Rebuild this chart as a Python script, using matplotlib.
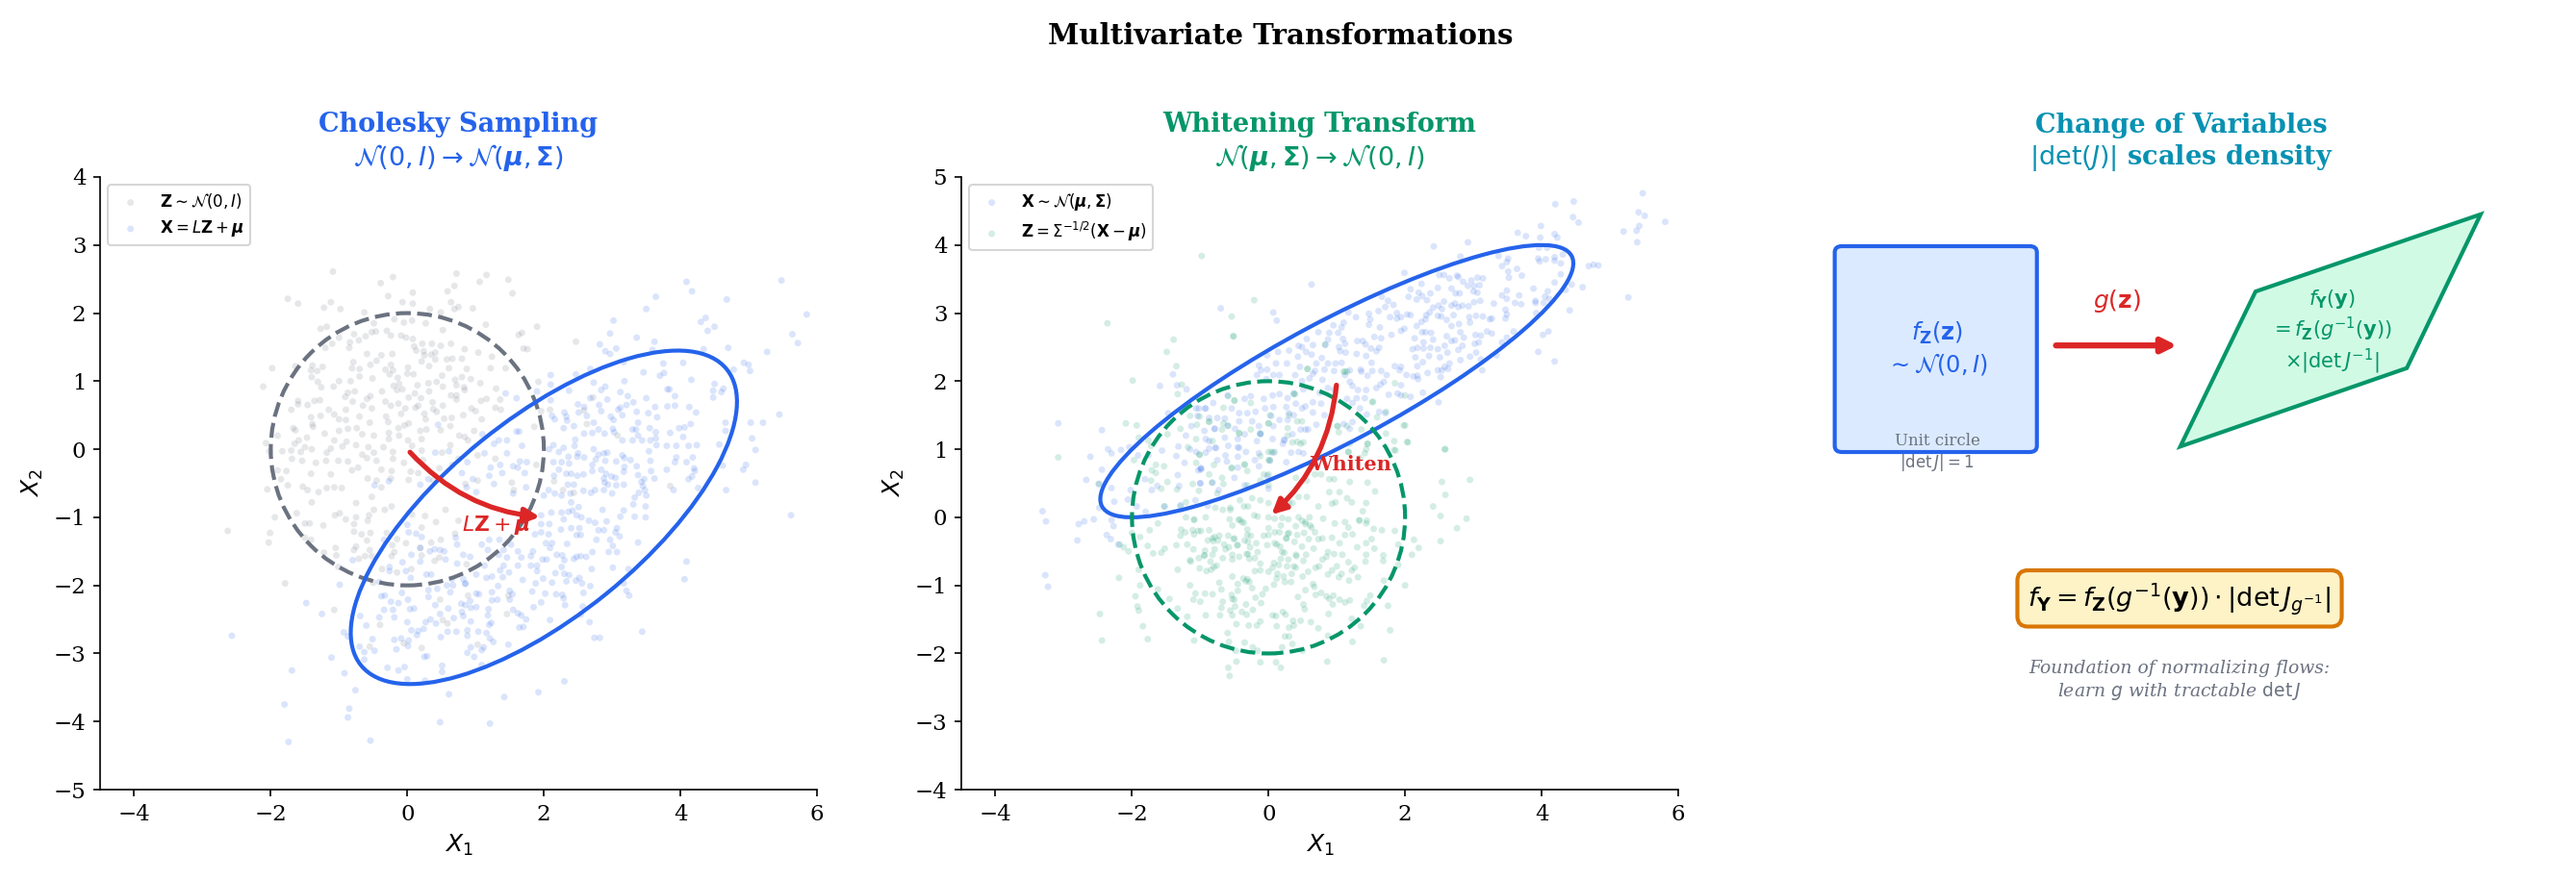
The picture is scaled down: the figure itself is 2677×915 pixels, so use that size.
import numpy as np
import matplotlib
matplotlib.use('Agg')
import matplotlib.pyplot as plt
from matplotlib.patches import Circle, Ellipse, FancyBboxPatch, Polygon

plt.rcParams['font.family'] = 'DejaVu Serif'

BLUE = '#2563EB'
GREEN = '#059669'
GRAY = '#6B7280'
RED = '#DC2626'
CYAN = '#0891B2'
ORANGE = '#D97706'

# Points, data coordinates
z_left = [(-1.09,2.61),(-0.21,2.53),(-0.39,2.44),(0.72,2.58),(1.16,2.56),(1.06,2.46),(1.48,2.49),(0.69,2.40),(0.59,2.32),(1.54,2.29),(0.08,2.30),(-0.28,2.25),(-1.75,2.21),(-1.60,2.14),(-1.12,2.16),(-1.22,2.08),(-0.98,2.06),(-0.07,2.16),(0.08,2.14),(0.64,2.16),(0.69,2.06),(0.75,2.09),(0.96,2.07),(-0.63,2.01),(0.33,2.06),(0.49,2.01),(-0.19,1.91),(-0.05,1.86),(0.07,1.89),(0.27,1.85),(-1.27,1.77),(-1.18,1.80),(-0.49,1.85),(1.15,1.83),(0.52,1.75),(-0.52,1.72),(-0.46,1.73),(-0.30,1.74),(-0.24,1.67),(-0.78,1.69),(-0.61,1.66),(-0.09,1.67),(-0.02,1.64),(0.08,1.62),(1.63,1.68),(1.68,1.71),(-1,1.64),(-1.20,1.49),(-1.10,1.55),(-0.84,1.57),(-0.71,1.60),(0.22,1.55),(0.36,1.55),(0.49,1.52),(0.64,1.55),(0.10,1.51),(-0.85,1.49),(0.84,1.47),(1.70,1.48),(1.76,1.47),(0.24,1.44),(0.25,1.38),(0.41,1.42),(0.35,1.39),(-0.22,1.40),(-0.38,1.38),(-0.59,1.40),(1.04,1.42),(1.24,1.36),(0.13,1.45),(0.21,1.29),(0.41,1.32),(0.58,1.32),(0.66,1.33),(0.80,1.33),(-0.45,1.30),(-0.79,1.28),(-0.24,1.24),(-0.54,1.24),(0.32,1.22),(-1.98,1.19),(-1.64,1.22),(-1.39,1.23),(-1.24,1.21),(-1.41,1.16),(-1.32,1.15),(-0.81,1.19),(-0.70,1.18),(-0.32,1.17),(-0.21,1.16),(0.01,1.20),(0.61,1.19),(0.87,1.18),(1.22,1.19),(1.44,1.19),(-0.26,1.10),(0,1.11),(0.09,1.10),(0.51,1.08),(-0.70,1.07),(-1.40,1.06),(-0.51,1.04),(-0.14,1.05),(0.80,1.06),(0.70,1.02),(0.93,1.03),(-1,1.0),(-0.83,1.0),(-1.31,0.99),(-0.12,0.96),(0.31,0.97),(0.43,0.99),(1.07,0.97),(-2.11,0.92),(-1.26,0.91),(-1.08,0.92),(-0.20,0.93),(0.15,0.94),(0.52,0.92),(0.72,0.94),(0.83,0.91),(1.30,0.89),(-0.37,0.85),(-0.77,0.85),(-0.15,0.87),(-0.07,0.88),(-0.87,0.83),(0.32,0.85),(0.84,0.87),(-0.91,0.77),(-0.54,0.78),(0.11,0.82),(0.64,0.79),(0.72,0.79),(0.02,0.76),(0.20,0.75),(0.72,0.73),(1.36,0.73),(1.16,0.74),(-1.60,0.71),(-1.28,0.72),(-1.36,0.71),(-0.80,0.70),(-0.59,0.74),(-0.32,0.70),(0.37,0.69),(1.08,0.71),(-1.46,0.65),(-1.60,0.66),(-0.65,0.64),(-0.52,0.60),(-0.24,0.64),(-0.13,0.67),(0.16,0.64),(0.52,0.64),(1.29,0.61),(1.37,0.58),(0.94,0.60),(-1.70,0.58),(-1.15,0.58),(-0.90,0.58),(-0.03,0.60),(0.12,0.61),(0.38,0.59),(0.43,0.55),(1,0.56),(-0.31,0.48),(-1.41,0.47),(-1.27,0.49),(-1.07,0.51),(-0.70,0.48),(-0.09,0.52),(0.25,0.52),(0.82,0.50),(0.65,0.46),(1.09,0.44),(-0.90,0.43),(-1,0.44),(-0.28,0.40),(-0.55,0.39),(0.27,0.44),(0.54,0.45),(0.02,0.38),(-0.04,0.35),(-0.13,0.31),(-1.39,0.37),(-1.38,0.33),(-0.87,0.30),(-0.74,0.31),(0.63,0.34),(0.28,0.29),(-1.67,0.31),(-1.64,0.28),(-1.21,0.23),(-1.90,0.20),(-1.47,0.17),(-1,0.27),(-0.49,0.20),(-0.27,0.24),(-0.12,0.20),(0.19,0.27),(0.49,0.28),(0.76,0.20),(0.84,0.18),(0.98,0.27),(-1.59,0.13),(-1.65,0.08),(-2.07,0.09),(-1.07,0.13),(-0.89,0.11),(-0.66,0.22),(0.01,0.13),(-0.27,0.15),(0.21,0.15),(0.63,0.06),(0.89,0.13),(0.07,0.05),(-0.57,0.03),(-0.35,0.03),(-1.50,0.03),(-0.95,0.04),(-0.75,0.06),(-1.83,-0.03),(-2.02,-0.03),(-1.70,-0.02),(-1.56,-0.04),(-1.40,-0.00),(-1.12,0.01),(-0.49,-0.05),(-0.21,-0.04),(-0.66,-0.08),(-1.18,-0.05),(0.21,-0.02),(0.51,-0.05),(-1.69,-0.14),(-1.54,-0.17),(-1.34,-0.20),(-1.19,-0.17),(-1.01,-0.17),(-0.87,-0.18),(-0.59,-0.13),(-0.45,-0.17),(-0.21,-0.14),(-0.05,-0.20),(0.23,-0.16),(-1.90,-0.31),(-1.77,-0.32),(-1.41,-0.36),(-1.12,-0.37),(-0.81,-0.31),(-0.72,-0.27),(-0.38,-0.30),(-0.23,-0.32),(0.05,-0.33),(0.16,-0.35),(-0.58,-0.43),(-0.45,-0.46),(-0.24,-0.43),(0.02,-0.45),(-1.85,-0.44),(-2.05,-0.59),(-1.75,-0.53),(-1.53,-0.55),(-1.46,-0.60),(-1.30,-0.63),(-1.18,-0.57),(-1.07,-0.56),(-0.96,-0.57),(-0.52,-0.70),(-0.38,-0.56),
    (-2.63,-1.20),(-2.01,-1.23),(-2.03,-1.37),(-1.94,-1.0),(-1.62,-0.94),(-1.50,-1.09),(-1.43,-1.09),(-1.23,-1.12),(-1.40,-0.78),(-0.99,-0.94),(-1.06,-0.97),(-0.90,-1.03),(-0.75,-1.0),(-0.56,-0.97),(-0.58,-1.05),(-0.78,-1.10),(-0.78,-1.21),(-0.67,-1.25),(-0.54,-1.23),(-0.30,-1.23),(-0.59,-1.34),(-1.05,-1.45),(-0.75,-1.43),(-0.55,-1.48),(-1.04,-1.56),(-0.62,-1.57),(-0.71,-1.61),(-0.78,-1.48),(-0.52,-1.57),(-1.22,-1.52),(-1.41,-1.33),(-1.50,-1.30),(-0.22,-1.41),(-0.15,-1.32),(-0.02,-1.38),(-0.23,-1.57),(-0.19,-1.51),(0.21,-1.56),(-0.37,-1.76),(-0.15,-1.81),(0.06,-1.76),(-1.01,-1.73),(-1.79,-1.97),(-1.07,-2.36),(-0.40,-2.58),(-0.50,-1.96),(0.21,-2.92),(-0.55,-2.90),(-0.05,-2.85),(0.48,-2.21),(0.89,-2.15),(1.48,-2.15),(1.46,-2.42),(0.52,-2.51),(0.59,-2.56),(1.03,-2.87),(0.49,-1.33),(0.35,-1.37),(0.21,-1.15),(0.42,-1.07),(0.70,-1.24),(0.19,-1.45),(0.47,-1.59),(0.40,-1.64),(0.87,-1.69),(0.07,-0.96),(0.26,-0.98),(0.56,-0.89),(0.75,-1.05),(-0.23,-0.84),(-0.75,-0.79),(-0.49,-0.89),(-0.33,-0.89),
    (1.90,1.80),(2.47,1.58),(1.92,0.99),(2.72,0.76),(2.09,0.58),(1.96,0.56),(2.59,0.57),(2.63,0.37),(1.86,0.33),(3.08,0.2),(2.15,-0.47),(3.85,-0.54),(2.28,-0.60),(2.44,-0.64),(1.89,-0.23),(1.03,-0.46),(1.53,-0.49),(0.85,-0.51),(0.66,-0.23),(1.03,-0.09),(0.75,-0.14),(1.29,-0.14),(1.56,-0.60),(0.47,-0.28),(0.38,-0.46)]

x_left = [(4.09,2.46),(4.17,2.32),(5.48,2.48),(3.64,2.24),(4.68,2.20),(5.85,1.98),(3.50,2.06),(3.02,1.89),(4.37,1.93),(4.30,1.87),(4.50,1.80),(4.40,1.74),(2.97,1.70),(5.64,1.69),(5.72,1.56),(3.36,1.64),(3.62,1.58),(2.82,1.54),(3.06,1.48),(2.90,1.44),(2.97,1.40),(4.70,1.49),(5.27,1.43),(3.59,1.46),(4.34,1.47),(4.93,1.27),(5.0,1.24),(5.02,1.15),(4.78,1.17),(3.75,1.26),(4.04,1.27),(3.17,1.28),(3.46,1.13),(3.76,1.12),(3.70,1.08),(2.68,1.18),(2.47,1.10),(2.10,1.09),(2.10,0.95),(2.73,0.98),(3.18,1.0),(4.16,1.02),(4.50,0.96),(2.90,0.92),(2.84,0.87),(2.37,0.86),(3.12,0.84),(3.81,0.88),(3.84,0.88),(4.48,0.86),(4.63,0.89),(4.60,0.84),(4.48,0.76),(3.92,0.78),(3.23,0.78),(3.50,0.75),(2.68,0.75),(2.93,0.73),(3.31,0.69),(2.10,0.72),(1.90,0.85),(2.50,0.66),(2.81,0.65),(3.21,0.65),(3.12,0.61),(3.63,0.62),(3.81,0.63),(3.92,0.64),(4.13,0.62),(2.59,0.62),(3.09,0.58),(3.36,0.55),(3.53,0.53),(4.23,0.54),(2.84,0.56),(2.51,0.54),(2.30,0.54),(2.12,0.49),(2.63,0.49),(2.98,0.48),(3.15,0.50),(3.66,0.47),(5.45,0.51),(3.02,0.43),(2.33,0.48),(2.16,0.44),(2.34,0.42),(3.38,0.39),(2.73,0.39),(4.66,0.39),(5.03,0.39),(5.21,0.39),(4.15,0.37),(3.55,0.31),(4.06,0.32),(3.98,0.31),(4.66,0.27),(2.44,0.34),(2.80,0.29),(3.01,0.30),(3.30,0.29),(3.35,0.29),(2.29,0.31),(2.71,0.24),(2.59,0.23),(2.89,0.23),(3.03,0.25),(3.64,0.25),(3.85,0.24),(4.04,0.18),(3.38,0.20),(2.46,0.14),(3.15,0.13),(3.30,0.13),(3.44,0.13),(3.56,0.13),(3.64,0.16),(5.05,0.16),(4.57,0.07),(2.14,0.06),(2.45,0.05),(2.29,0.02),(3.65,0.06),(3.80,0.05),(3.94,0.05),(4.12,0.05),(4.24,0.06),(5.10,-0.01),(2.08,-0.0),(2.73,-0.0),(3.54,-0.03),(2.22,-0.04),(2.50,-0.06),(2.93,-0.05),(2.88,-0.06),(2.80,-0.08),(3.15,-0.09),(3.94,-0.12),(4.18,-0.12),(2.36,-0.11),(2.49,-0.11),(2.59,-0.12),(2.76,-0.15),(3.18,-0.13),(3.27,-0.16),(3.56,-0.17),(2.90,-0.17),(3.06,-0.18),(3.92,-0.19),(4.09,-0.19),(2.14,-0.19),(2.26,-0.19),(2.37,-0.21),(2.71,-0.23),(3.36,-0.25),(4.62,-0.24),(4.96,-0.23),(4.92,-0.30),(4.20,-0.28),(3.80,-0.30),(3.18,-0.26),(3.57,-0.32),(2.22,-0.30),(2.84,-0.30),(3.17,-0.33),(2.71,-0.32),(2.58,-0.37),(2.33,-0.36),(2.40,-0.36),(2.49,-0.39),(2.91,-0.36),(3.38,-0.38),(4.21,-0.32),(4.17,-0.40),(4.12,-0.44),(2.88,-0.43),(2.99,-0.40),(3.05,-0.42),(3.62,-0.43),(3.47,-0.44),(2.15,-0.39),(3.43,-0.48),(5.10,-0.49),(2.35,-0.52),(2.44,-0.52),(3.17,-0.52),(3.06,-0.53),(3.45,-0.54),(2.94,-0.52),(2.89,-0.49),(3.90,-0.60),(4.26,-0.57),(4.67,-0.60),(3.48,-0.60),(2.75,-0.60),(2.58,-0.61),(2.16,-0.65),(2.88,-0.60),(3.39,-0.64),(3.0,-0.65),(2.39,-0.65),(2.69,-0.64),(2.07,-0.60),(3.50,-0.68),(3.33,-0.71),(2.26,-0.68),(2.0,-0.68),
    (5.62,-0.97),(4.09,-1.65),(4.06,-1.91),(3.44,-2.68),(2.74,-2.77),(2.82,-2.77),(2.67,-2.54),(2.30,-3.41),(1.92,-3.57),(2.09,-2.51),(3.25,-2.15),(3.21,-2.08),(3.17,-1.97),(3.24,-1.76),(3.01,-1.74),(3.38,-1.37),(3.12,-0.99),(3.33,-0.99),(3.49,-1.0),(3.49,-0.84),(3.31,-0.81),(3.17,-0.90),(2.86,-0.89),(2.92,-1.06),(3.07,-1.16),(3.05,-1.22),(3.11,-1.28),(2.88,-1.19),(2.80,-1.19),(2.97,-1.33),(3.01,-1.42),(3.07,-1.51),(2.95,-1.51),(2.77,-1.33),(2.71,-1.51),(2.62,-1.58),(2.54,-1.57),(2.48,-1.58),(2.44,-1.61),(2.34,-1.39),(2.40,-1.16),(2.25,-1.18),(2.07,-1.25),(1.96,-1.22),(1.87,-1.25),(2.48,-1.26),(2.54,-1.26),(2.52,-1.16),(2.75,-1.08),(2.66,-1.05),(2.55,-1.0),(2.48,-0.97),(2.42,-0.90),(2.26,-0.93),(2.36,-0.92),(2.51,-0.85),(2.40,-0.78),(2.11,-0.93),(1.96,-0.97),(1.96,-1.10),(2.29,-1.03),(2.08,-1.10),(2.03,-1.38),(2.12,-1.38),(2.09,-1.45),(2.19,-1.55),(2.27,-1.56),(1.84,-1.50),(1.81,-1.57),(1.98,-1.62),(2.04,-1.62),(2.30,-1.63),(1.81,-1.71),(1.90,-1.71),(2.26,-1.73),(2.70,-1.76),(1.90,-1.79),(2.17,-1.82),(2.30,-1.83),(2.37,-1.85),(1.99,-1.90),(2.52,-1.89),(2.47,-1.93),(2.33,-1.94),(2.12,-1.96),(1.88,-1.97),(2.56,-1.97),(2.68,-2.01),(1.83,-2.09),(2.02,-2.12),(2.18,-2.13),(2.27,-2.14),(2.58,-2.11),(2.29,-2.19),(1.96,-2.25),(2.31,-2.29),(2.57,-2.31),(1.85,-2.32),(2.54,-2.43),
    (-2.57,-2.74),(-1.69,-3.25),(-1.80,-3.75),(-1.74,-4.30),(-0.85,-3.81),(-0.87,-3.94),(-0.54,-4.28),(-0.76,-3.54),(-0.92,-3.29),(-1.11,-3.06),(-1.48,-2.26),(-1.25,-2.42),(-0.99,-1.99),(-0.93,-2.69),(-0.87,-2.75),(-0.69,-2.45),(-0.60,-2.59),(-0.70,-2.90),(-0.63,-2.98),(-0.48,-2.96),(-0.63,-3.09),(-0.51,-2.79),(-0.29,-3.21),(-0.13,-3.25),(-0.04,-3.20),(0.48,-4.01),(0.61,-3.60),(1.21,-4.03),(1.42,-3.64),(0.51,-3.18),(0.51,-3.27),(0,-3.38),(0.26,-3.40),(0.25,-3.05),(0.29,-3.04),(-0.16,-2.94),(-0.19,-2.80),(-0.09,-2.78),(0.02,-2.81),(0.01,-2.89),(-0.38,-2.16),(-0.33,-2.15),(-0.24,-2.24),(-0.13,-2.26),(0.01,-2.21),(-0.08,-2.11),(-0.34,-2.36),(-0.21,-2.36),(-0.41,-2.47),(-0.19,-2.47),(0.04,-2.35),(0.10,-2.34),(-0.00,-2.54),(0.34,-2.50),(0.27,-2.54),(0.42,-2.56),(0.06,-2.66),(0.16,-2.67),(0.24,-2.64),(0.14,-2.73),(0.49,-2.76),(0.59,-2.68),(0.72,-2.68),(0.88,-2.66),(0.88,-2.74),(1.04,-2.68),(1.16,-2.70),(1.21,-2.78),(1.26,-2.83),(0.88,-2.99),(0.93,-2.91),(0.98,-3.05),(1.12,-2.91),(1.09,-2.95),(1.09,-3.17),(1.48,-2.87),(1.64,-2.62),(1.70,-2.61),(1.23,-2.55),(1.20,-2.58),(0.93,-2.53),(0.80,-2.39),(0.82,-2.45),(0.68,-2.48),(1.18,-2.44),(0.48,-2.42),(0.60,-2.34),(0.41,-2.29),(0.31,-2.17),(0.63,-2.10),(0.44,-2.05),(0.31,-2.07),(0.58,-2.0),(0.67,-2.0),(0.85,-1.97),(1.01,-2.12),(1.05,-2.13),(0.79,-2.27),(0.85,-2.29),(0.92,-2.23),(0.93,-2.33),(1.01,-2.32),(1.19,-2.35),(1.24,-2.22),(1.32,-2.21),(1.24,-2.10),(1.33,-2.01),(1.50,-2.08),(1.54,-2.13),(1.50,-2.21),(1.55,-2.36),(1.62,-2.41),(1.67,-2.44),(1.74,-2.50),(1.16,-1.89),(1.24,-1.87),(1.40,-1.88),(1.69,-1.92),(1.41,-1.71),(1.36,-1.78),(1.49,-1.81),(1.62,-1.71),(1.13,-1.71),(1.01,-1.84),(0.82,-1.91),(0.65,-1.91),(0.85,-1.98),(0.73,-1.68),(0.28,-1.84),(0.35,-1.84),(0.05,-1.89),(-0.02,-1.79),(-0.07,-1.66),(-0.26,-1.73),(-0.26,-1.79),(-0.41,-1.95),(0.56,-1.62),(0.19,-1.65),(0.06,-1.55),(0.33,-1.50),(0.40,-1.47),(0.48,-1.48),(0.54,-1.50),(0.19,-1.45),(0.71,-1.30),(0.73,-1.40),(0.82,-1.55),(0.92,-1.58),(1.09,-1.40),(1.18,-1.48),(1.20,-1.33),(1.35,-1.33),(1.41,-1.48),(1.46,-1.59),(1.34,-1.55),(1.52,-1.40),(1.62,-1.50),(1.67,-1.59),(0.21,-1.29),(0.02,-1.22),(0.13,-1.24),(0,-1.11),(-0.34,-1.33),(-0.80,-1.63),
    (1.44,0.82),(1.60,0.75),(1.60,0.26),(1.64,0.26),(1.27,0.08),(1.34,0.13),(1.46,0.13),(1.68,0.05),(1.10,0.22),(0.45,0.36),(0.41,-0.05),(0.61,-0.03),(1.13,-0.06),(1.46,-0.06),(1.65,-0.18),(1.75,-0.19),(0.88,-0.19),(1.55,-0.25),(1.62,-0.27),(1.72,-0.35),(1.36,-0.23),(1.22,-0.27),(1.39,-0.35),(0.80,-0.35),(0.96,-0.44),(1.20,-0.39),(0.31,-0.44),(0.19,-0.52),(0.87,-0.56),(1.27,-0.51),(1.01,-0.63),(1.55,-0.65),(1.74,-0.56),(-0.48,-0.53),(-0.27,-0.47)]

x_mid = [(5.48,4.76),(5.42,4.48),(5.51,4.43),(5.81,4.34),(5.43,4.28),(5.20,4.20),(5.39,4.21),(5.40,4.04),(5.27,3.23),(4.83,3.70),(4.76,3.71),(4.69,3.69),(4.60,3.38),(4.47,4.64),(4.20,4.60),(4.46,4.41),(4.54,4.33),(3.99,4.28),(3.65,4.18),(3.77,4.13),(3.98,4.11),(4.19,4.16),(4.23,4.11),(2.92,4.04),(2.42,3.98),(2.81,3.83),(3.37,3.84),(3.51,3.80),(3.49,3.75),(3.42,3.69),(3.64,3.65),(3.51,3.61),(3.71,3.55),(3.52,3.52),(3.96,3.96),(4.08,3.96),(3.95,3.80),(4.06,3.79),(3.97,3.76),(4.19,3.82),(4.19,3.77),(4.31,3.86),(4.28,3.73),(4.28,3.57),(4.19,3.45),(4.44,3.42),(4.35,3.34),(4.09,3.32),(3.88,3.36),(3.49,3.33),(3.42,3.26),(3.67,3.26),(3.49,3.21),(3.61,3.15),(3.70,3.13),(4.05,3.24),(4.11,3.21),(3.91,3.18),(4.03,3.15),(3.91,3.15),(4.41,3.04),(3.92,3.0),(3.47,3.05),(3.49,2.98),(3.47,2.92),(3.30,3.14),(3.10,3.18),(3.27,2.92),(3.24,2.91),(3.14,2.95),(3.04,2.96),(2.94,2.94),(2.95,2.86),(2.79,2.84),(2.68,2.81),(2.53,2.95),(2.61,2.90),(2.71,2.97),(2.54,3.06),(2.48,2.96),(2.84,3.11),(2.78,3.09),(2.93,3.10),(2.68,3.11),(2.73,3.14),(3.01,3.16),(2.49,3.11),(2.57,3.17),(2.41,3.08),(2.36,3.01),(2.31,2.97),(2.30,2.91),(2.24,2.87),(2.08,2.97),(2.03,2.98),(1.94,2.94),(1.88,2.92),(1.88,3.0),(1.78,2.94),(2.17,2.81),(1.99,2.77),(1.94,2.74),(1.80,2.68),(2.25,2.72),(2.30,2.72),(2.38,2.71),(2.14,2.63),(2.41,2.61),(2.61,2.66),(2.81,2.72),(2.86,2.64),(3.03,2.68),(3.11,2.67),(3.20,2.73),(3.27,2.70),(3.08,2.57),(3.02,2.55),(2.68,2.59),(2.73,2.60),(2.84,2.52),(2.78,2.46),(2.58,2.52),(2.27,2.57),(2.27,2.48),(2.18,2.49),(2.48,2.47),(2.37,2.49),(2.11,2.47),(2.62,2.42),(2.35,2.37),(2.15,2.35),(2.51,2.35),(2.81,2.31),(2.95,2.36),(3.04,2.42),(3.34,2.38),(3.59,2.73),(3.49,2.64),(3.42,2.57),(3.11,2.32),(4.02,2.68),(4.10,2.73),(3.95,2.43),(4.19,2.29),(2.26,2.28),(2.65,2.26),(2.58,2.21),(2.63,2.18),(2.48,2.16),(2.54,2.16),(3.13,2.16),(2.33,2.12),(2.52,2.06),(2.12,2.07),(2.18,2.08),(2.02,2.09),(2.19,2.03),(1.94,2.21),(1.85,2.22),(1.92,2.16),(2.18,2.22),(1.94,1.94),(2.26,1.83),(2.08,1.77),(1.89,1.82),(1.94,1.79),(1.76,1.80),(2.49,1.69),(1.73,2.09),(1.75,3.18),(1.83,3.12),(2.05,3.24),(2.17,3.20),(2.20,3.30),(2.25,3.25),(2.32,3.19),(2.37,3.29),(2.74,3.29),(2.80,3.29),(3.06,3.30),(3.0,3.32),(2.68,3.36),(2.48,3.37),(2.08,3.35),(2.24,3.43),(2.92,3.40),(3.09,3.41),(3.01,3.40),(2.85,3.46),(2.97,3.48),(2.78,3.53),(2.65,3.51),(2.76,3.55),(2.57,3.56),(2.50,3.56),(3.06,3.52),(3.14,3.51),(1.99,3.59),(1.71,3.09),
    (0.63,3.42),(-0.70,3.07),(0.07,3.01),(0.12,2.89),(1.17,3.01),(1.28,2.94),(1.47,2.99),(1.61,3.03),(1.66,3.24),(1.49,2.91),(1.47,2.83),(1.63,2.79),(1.10,2.86),(0.95,2.82),(1.07,2.79),(0.73,2.72),(0.89,2.71),(1.02,2.71),(0.56,2.62),(0.87,2.61),(1.09,2.62),(0.44,2.52),(0.65,2.53),(0.83,2.53),(1.12,2.55),(0.49,2.50),(1.03,2.50),(0.30,2.45),(0.55,2.43),(1.05,2.44),(1.13,2.42),(0.14,2.43),(-0.02,2.38),(0.43,2.36),(0.63,2.39),(0.78,2.34),(1.29,2.40),(1.43,2.37),(1.50,2.48),(1.55,2.65),(1.65,2.63),(1.30,2.59),(1.38,2.59),(1.42,2.54),(1.58,2.44),(1.62,2.49),(0.11,2.26),(0.27,2.26),(-0.14,2.23),(0.70,2.26),(0.87,2.26),(0.98,2.26),(1.07,2.27),(1.51,2.27),(0.46,2.21),(-0.11,2.16),(-0.02,2.17),(0.68,2.15),(0.82,2.17),(0.96,2.15),(1.19,2.16),(1.35,2.17),(1.52,2.15),(1.65,2.15),(-0.17,2.09),(0.07,2.09),(0.16,2.09),(0.39,2.09),(0.60,2.04),(0.79,2.02),(1.12,2.09),(1.45,2.08),(1.36,2.14),(1.69,1.99),(-0.03,2.03),(0.49,2.0),(0.65,2.11),(1.19,1.99),(1.23,1.93),(1.31,1.87),(1.43,1.87),(1.58,1.90),(1.64,1.95),(1.15,1.74),(1.29,1.75),(1.41,1.75),(0.87,1.90),(0.96,1.88),(0.75,1.83),(0.51,1.88),(0.37,1.82),(0.06,1.79),(0.28,1.75),(0.16,1.81),(-0.07,1.74),(-0.26,1.78),(-0.35,1.74),(-0.60,1.79),(-0.81,1.68),(-0.54,1.60),(-0.92,1.60),(-1.02,1.60),(0.65,1.69),(0.77,1.67),(1.23,1.68),(1.34,1.60),(1.44,1.51),(1.62,1.55),(1.71,1.53),(1.23,1.40),(1.10,1.37),(1.19,1.30),(0.54,1.63),(0.40,1.67),(0.26,1.62),(0.30,1.53),(0.07,1.62),(-0.05,1.60),(-0.19,1.55),(-0.31,1.53),(-0.43,1.53),(-0.64,1.45),(-0.75,1.46),(-0.87,1.46),(-1.04,1.49),(0.49,1.60),(0.37,1.50),(0.65,1.54),(0.82,1.50),(0.16,1.43),(0.04,1.49),(-0.14,1.34),(-0.43,1.41),(-0.24,1.41),(0.07,1.34),(0.28,1.43),(0.54,1.29),(0.70,1.36),(0.47,1.29),(-0.79,1.30),(-0.94,1.27),(-0.60,1.35),(-0.49,1.30),(-0.35,1.22),(-0.12,1.23),(0.35,1.22),(0.58,1.29),(0.06,1.15),(0.23,1.14),(-0.17,1.12),(-0.87,1.12),(-0.64,1.17),(-0.45,1.15),(-0.77,1.02),(-0.43,1.02),(-1.06,0.96),(-0.92,0.95),(-0.59,1.05),(0.07,0.95),(0.21,1.08),(0.33,0.95),(0.51,0.94),(-0.33,0.96),(-0.14,0.94),(-0.75,0.84),(-0.45,0.89),(0.02,0.83),(-0.99,0.72),(-0.61,0.82),(-0.14,0.75),(0.26,0.81),
    (-3.08,1.38),(-2.44,1.28),(-1.59,1.93),(-1.40,2.10),(-1.34,1.94),(-1.20,1.88),(-1.47,1.53),(-1.06,1.60),(-0.93,1.60),(-1.21,1.20),(-1.13,1.34),(-1.32,1.04),(-1.56,0.98),(-2.04,1.03),(-2.16,0.99),(-2.35,1.0),(-2.30,0.94),(-2.61,0.89),(-1.76,0.91),(-1.35,0.90),(-1.15,1.0),(-1.91,0.91),(-2.44,0.70),(-2.67,0.55),(-1.81,0.56),(-1.33,0.62),(-1.23,0.80),(-1.03,0.69),(-0.99,0.70),(-1.71,0.40),(-2.30,0.43),(-2.02,0.40),(-2.48,0.49),(-1.63,0.46),(-1.31,0.46),(-1.0,0.50),(-2.06,0.26),(-2.26,0.23),(-2.48,0.14),(-1.52,0.16),(-1.29,0.18),(-1.07,0.25),(-0.89,0.17),(-2.30,-0.04),(-3.31,0.09),(-3.26,-0.06),(-2.78,-0.10),(-2.70,-0.06),(-2.56,-0.03),(-2.27,-0.13),(-2.80,-0.34),(-2.37,-0.26),(-2.31,-0.32),(-2.20,-0.40),(-1.80,0.08),(-1.93,0.16),(-0.79,1.30),(-0.92,1.15),(-0.78,1.02),(-0.87,1.01),(-0.63,0.91),(-0.45,1.03),(-0.12,1.22),(0.23,1.13),(0.44,0.96),(-0.45,0.73),(-0.20,0.84),(-0.99,0.72),(-1.0,0.50),(-0.0,0.42),(-0.02,0.61),(-0.50,0.58),(-0.73,0.40),(-0.82,0.51),(-0.35,0.47),(-3.27,-0.85),(-3.23,-1.02)]

z_mid = [(-2.44,-1.81),(-2.47,-1.42),(-2.19,-0.89),(-1.84,-1.60),(-1.77,-1.79),(-1.90,-1.37),(-1.92,-1.31),(-1.95,-1.16),(-1.90,-0.77),(-1.88,-1.0),(-1.62,-1.06),(-1.45,-1.20),(-1.33,-1.34),(-1.19,-1.46),(-1.09,-1.81),(-0.57,-2.33),(-0.59,-2.21),(-0.47,-2.12),(-0.12,-2.13),(0.11,-2.13),(0.18,-2.21),(0.86,-2.12),(1.69,-2.10),(1.23,-1.83),(0.87,-1.74),(-0.48,-1.96),(-0.58,-1.83),(-0.35,-1.84),(-0.23,-1.91),(0.20,-1.91),(0.35,-1.86),(-0.16,-1.96),(0.50,-1.96),(-0.60,-1.70),(0.24,-1.75),(0.30,-1.75),(-0.29,-1.59),(-0.12,-1.53),(-0.17,-1.59),(0.12,-1.60),(0.30,-1.62),(0.37,-1.59),(0.36,-1.52),(0.47,-1.52),(0.62,-1.54),(0.73,-1.63),(1.22,-1.49),(1.35,-1.60),(-0.47,-1.57),(-0.92,-1.44),(-0.71,-1.44),(-0.53,-1.44),(-0.56,-1.37),(-0.39,-1.39),(-0.32,-1.43),(-0.23,-1.36),(0.06,-1.44),(0.11,-1.45),(0.21,-1.39),(0.25,-1.43),(0.88,-1.42),(0.53,-1.35),(0.51,-1.28),(-0.69,-1.33),(-0.49,-1.31),(-0.33,-1.28),(-0.67,-1.24),(-1.0,-1.24),(-1.10,-1.21),(-0.11,-1.26),(-0.19,-1.18),(-0.53,-1.20),(-0.50,-1.21),(0.94,-1.28),(0.89,-1.20),(1.04,-1.21),(1.12,-1.25),(1.19,-1.22),(1.44,-1.23),(1.49,-1.15),(1.40,-1.30),(0.43,-1.17),(-0.09,-1.13),(-1.07,-1.12),(-0.93,-1.12),(-0.82,-1.13),(-0.54,-1.14),(0.69,-1.14),(0.77,-1.11),(0.85,-1.16),(0.95,-1.15),(0.54,-1.07),(-0.04,-1.05),(-0.69,-1.06),(-0.45,-1.08),(-0.24,-1.04),(-1.15,-1.0),(-0.45,-0.98),(-0.33,-0.94),(0.67,-1.02),(0.65,-0.98),(1.69,-0.93),(0.08,-0.99),(0.24,-0.95),(0.33,-0.95),(-0.72,-0.96),(-0.28,-0.95),(-0.37,-0.90),(-0.31,-0.91),(-0.53,-0.87),(0.12,-0.90),(0.13,-0.83),(0.22,-0.87),(0.34,-0.83),(0.50,-0.87),(0.58,-0.80),(1.03,-0.88),(1.07,-0.83),(1.18,-0.93),(1.31,-0.88),(0.87,-0.84),(0.37,-0.72),(0.27,-0.72),(0.40,-0.74),(0.06,-0.74),(-0.0,-0.80),(-0.12,-0.78),(-0.20,-0.79),(-1.01,-0.75),(-0.91,-0.79),(-0.84,-0.77),(-1.33,-0.77),(-0.80,-0.73),(-0.76,-0.71),(-1.15,-0.63),(-1.14,-0.65),(-1.02,-0.60),(-0.94,-0.56),(-0.85,-0.65),(-0.67,-0.60),(-0.53,-0.62),(-0.43,-0.58),(-0.30,-0.54),(-0.28,-0.61),(-0.20,-0.60),(-0.12,-0.68),(0.08,-0.67),(0.15,-0.70),(0.18,-0.61),(0.29,-0.62),(0.41,-0.57),(0.51,-0.64),(0.69,-0.74),(0.74,-0.72),(0.79,-0.62),(0.85,-0.58),(0.93,-0.78),(1.0,-0.72),(1.17,-0.66),(1.26,-0.74),(1.22,-0.78),(1.42,-0.65),(1.68,-0.56),(1.68,-0.64),(1.08,-0.55),(0.96,-0.54),(0.87,-0.51),(0.55,-0.55),(0.40,-0.55),(0.23,-0.52),(-0.16,-0.51),(-0.32,-0.54),(-0.53,-0.55),(-0.82,-0.55),(-0.94,-0.56),(-1.57,-0.52),(-1.69,-0.53),(-2.05,-0.50),(-1.52,-0.46),(-1.10,-0.47),(-0.79,-0.47),(-0.93,-0.49),(-0.63,-0.47),(-0.46,-0.41),(-0.27,-0.44),(0.12,-0.40),(0.17,-0.43),(0.20,-0.51),(-0.02,-0.41),(0.49,-0.43),(0.66,-0.46),(1.30,-0.44),(1.55,-0.46),(1.43,-0.38),(1.43,-0.55),(-1.35,-0.41),(-1.77,-0.42),(-2.12,-0.44),(-2.18,-0.40),(-1.19,-0.40),(-0.65,-0.40),(-0.58,-0.44),(-0.45,-0.41),(-0.18,-0.38),(-0.89,-0.34),(-0.81,-0.35),(-0.74,-0.34),(-0.51,-0.32),(-0.35,-0.34),(-0.26,-0.27),(-0.30,-0.36),(0.09,-0.38),(0.38,-0.36),(0.59,-0.32),(0.73,-0.32),(1.04,-0.38),(0.79,-0.31),(0.93,-0.30),(1.51,-0.32),(1.23,-0.25),(1.12,-0.26),(0.26,-0.31),(-1.29,-0.27),(-1.88,-0.29),(-1.09,-0.25),(-0.99,-0.20),(-0.87,-0.19),(-0.79,-0.29),(-0.72,-0.27),(-0.59,-0.27),(-0.07,-0.27),(-0.0,-0.26),(0.16,-0.22),(0.28,-0.24),(0.42,-0.26),(0.52,-0.23),(0.68,-0.22),(-1.28,-0.18),(-1.22,-0.22),(-1.11,-0.19),(-1.03,-0.20),(-1.74,-0.19),(-2.0,-0.23),(-1.62,-0.09),(-0.53,-0.12),(-0.39,-0.07),(-0.31,-0.18),(-0.0,-0.16),(0.18,-0.12),(0.30,-0.23),(0.40,-0.13),(0.54,-0.07),(0.63,-0.15),(0.97,-0.09),(1.12,-0.07),(1.17,-0.15),(1.33,-0.04),(1.43,-0.09),(1.54,-0.17),(1.66,-0.19),(-1.09,-0.04),(-0.92,-0.0),(-1.21,-0.0),(-0.57,-0.03),(-0.44,-0.04),(-0.21,0.03),(-0.16,0.01),(-0.0,-0.0),(0.09,-0.02),(0.20,-0.01),(0.29,-0.03),(0.44,-0.0),(0.60,-0.0),(0.80,-0.02),
    (-2.36,2.85),(-0.51,2.66),(-1.39,2.61),(-1.49,2.43),(-1.35,2.22),(-1.99,2.01),(-1.27,1.95),(-1.33,1.81),(-2.09,1.38),(-1.93,1.35),(-3.08,0.88),(-2.49,0.49),(-1.90,1.17),(-1.76,1.13),(-1.72,1.05),(-1.97,0.84),(-1.65,0.77),(-1.53,0.75),(-1.71,0.69),(-1.65,0.65),(-1.72,0.54),(-1.57,0.42),(-1.48,0.52),(-1.34,0.41),(-1.11,0.49),(-1.02,0.39),(-0.83,0.51),(-0.75,0.35),(-0.66,0.49),(-1.53,0.16),(-1.21,0.22),(-1.29,0.16),(-0.78,0.14),(-0.67,0.11),(-0.56,0.11),(-1.09,-0.03),(-0.59,1.78),(-0.50,1.72),(-0.66,1.38),(-1.01,1.48),(-1.15,1.49),(-0.87,1.41),(-1.29,1.30),(-1.48,1.22),(-0.43,1.23),(-0.26,1.29),(-0.59,1.34),(-1.18,1.03),(-1.01,0.92),(-1.06,0.80),(-0.80,0.77),(-0.87,0.63),(-0.68,0.58),(-0.54,0.73),(-0.35,0.77),(-0.31,0.68),(-0.07,0.63),(-0.12,0.54),(-0.0,0.47),(-0.31,0.47),(-0.42,0.25),(-0.24,0.28),(-0.12,0.25),(-0.0,0.63),(-0.0,0.96),(0.09,0.96),(-0.0,0.84),(-0.12,0.90),(0.35,1.10),(0.47,1.08),(0.28,1.31),(0.42,1.41),(0.49,1.41),(-0.0,1.38),(0.37,1.81),(0.57,2.18),(1.12,2.14),(1.52,1.69),(1.01,1.34),(1.15,1.34),(1.45,1.08),(1.17,0.96),(1.34,0.87),(0.40,0.58),(0.56,0.54),(0.56,0.30),(0.44,0.30),(0.68,0.63),(0.77,0.63),(0.89,0.56),(0.96,0.56),(0.89,0.37),(1.04,0.37),(1.19,0.52),(1.45,0.51),(1.56,0.38),(1.15,0.28),(1.22,0.22),(0.93,0.20),(0.98,0.22),(0.73,0.16),(0.30,0.21),(0.35,0.21),(-0.0,0.21),(-0.36,0.16),(-0.56,0.14),(-0.30,0.16),(1.33,-0.05),(1.44,-0.05),(1.38,0.09),(1.43,0.21),(-0.82,-0.31),(-0.50,-0.31),(-0.31,-0.26),(0.09,-0.22),(0.26,-0.31),(0.49,-0.05),(0.54,-0.10),(0.61,-0.12),(-0.42,-0.03),(-0.36,-0.08),
    (-0.98,3.84),(-0.21,3.19),(-0.54,2.95),(-0.52,2.66),(0.83,2.54),(2.0,1.79),(1.85,1.97),(0.57,2.18),(1.10,2.14),(1.53,1.70),(1.72,1.55),(1.59,1.47),(2.0,1.35),(1.72,1.23),(1.84,1.12),(2.04,1.10),(2.59,1.0),(1.86,0.98),(1.43,1.0),(1.45,1.08),(1.41,0.94),(1.03,1.25),(1.01,1.34),(1.36,1.29),(0.51,1.10),(0.42,1.11),(0.04,0.96),(0.28,1.20),(0.02,0.84),(-0.35,0.78),(-0.54,0.72),(-0.12,1.23),(-0.0,1.38),(-0.43,1.24),(-0.68,1.29),(-0.66,1.61),(-0.26,1.68),(-0.50,1.71),(-0.87,1.40),(-1.05,1.36),(-1.06,1.15),(-1.01,0.92),(-0.82,1.12),(0.02,1.50),(0.30,1.50),(0.39,1.81),(1.15,2.14),(1.19,1.08),(1.17,0.96),
    (2.58,1.0),(2.03,1.11),(2.95,0.55),(2.54,0.52),(2.59,0.33),(2.41,0.16),(2.52,0.02),(2.90,-0.02),(2.76,-0.16),(2.52,-0.35),(2.13,-0.33),(2.20,-0.45),(1.84,0.99),(1.98,1.35),(1.78,-1.66),(1.9,-0.7),(2.0,-1.0),(1.85,-0.2),(2.1,-0.55),(1.75,-1.3),(1.9,-0.4)]

# mean and covariance behind the two solid ellipses
mu_left = (2, -1)
sigma_left = [[2.0, 1.2], [1.2, 1.5]]
mu_mid = (1, 2)
sigma_mid = [[3.0, 1.5], [1.5, 1.0]]

para_verts = [(4.99, 5.60), (6.04, 8.13), (9.18, 9.39), (8.15, 6.88)]


def ellipse_2sigma(ax, mu, sigma, **kw):
    vals, vecs = np.linalg.eigh(np.array(sigma))
    angle = np.degrees(np.arctan2(vecs[1, 1], vecs[0, 1]))
    ax.add_patch(Ellipse(mu, 4 * np.sqrt(vals[1]), 4 * np.sqrt(vals[0]), angle=angle,
                         fill=False, **kw))


def style_axes(ax, ymin, ymax):
    ax.set_xlim(-4.5, 6)
    ax.set_ylim(ymin, ymax)
    ax.set_xticks([-4, -2, 0, 2, 4, 6])
    ax.set_yticks(range(ymin, ymax + 1))
    ax.tick_params(labelsize=11)
    ax.set_xlabel('$X_1$', fontsize=12)
    ax.set_ylabel('$X_2$', fontsize=12)
    ax.spines['top'].set_visible(False)
    ax.spines['right'].set_visible(False)


def dots(ax, pts, color, label):
    ax.scatter(*zip(*pts), s=11, c=color, alpha=0.17, edgecolors='none', label=label)


def red_arrow(ax, start, end, rad):
    ax.annotate('', xy=end, xytext=start,
                arrowprops=dict(arrowstyle='-|>', color=RED, lw=2.5, mutation_scale=15,
                                connectionstyle=f'arc3,rad={rad}'))


W, H = 2677, 915
fig = plt.figure(figsize=(W / 150, H / 150), dpi=150)
lefts = [104, 999, 1894]
axs = [fig.add_axes([l / W, (H - 821) / H, 745 / W, 637 / H]) for l in lefts]

# Cholesky panel
ax = axs[0]
dots(ax, z_left, GRAY, r'$\mathbf{Z}\sim\mathcal{N}(0,I)$')
dots(ax, x_left, BLUE, r'$\mathbf{X}=L\mathbf{Z}+\boldsymbol{\mu}$')
ax.add_patch(Circle((0, 0), 2, fill=False, ec=GRAY, lw=2, ls='--'))
ellipse_2sigma(ax, mu_left, sigma_left, ec=BLUE, lw=2)
red_arrow(ax, (0, 0), mu_left, 0.2)
ax.text(1.3, -1.12, r'$L\mathbf{Z}+\boldsymbol{\mu}$', color=RED, fontsize=10.5, ha='center', va='center')
style_axes(ax, -5, 4)
ax.legend(loc='upper left', fontsize=8)
ax.set_title('Cholesky Sampling\n' + r'$\mathcal{N}(0,I)\to\mathcal{N}(\boldsymbol{\mu},\mathbf{\Sigma})$',
             color=BLUE, fontsize=13, fontweight='bold')

# Whitening panel
ax = axs[1]
dots(ax, x_mid, BLUE, r'$\mathbf{X}\sim\mathcal{N}(\boldsymbol{\mu},\mathbf{\Sigma})$')
dots(ax, z_mid, GREEN, r'$\mathbf{Z}=\Sigma^{-1/2}(\mathbf{X}-\boldsymbol{\mu})$')
ellipse_2sigma(ax, mu_mid, sigma_mid, ec=BLUE, lw=2)
ax.add_patch(Circle((0, 0), 2, fill=False, ec=GREEN, lw=2, ls='--'))
red_arrow(ax, mu_mid, (0, 0), -0.2)
ax.text(1.2, 0.77, 'Whiten', color=RED, fontsize=10, fontweight='bold', ha='center', va='center')
style_axes(ax, -4, 5)
ax.legend(loc='upper left', fontsize=8)
ax.set_title('Whitening Transform\n' + r'$\mathcal{N}(\boldsymbol{\mu},\mathbf{\Sigma})\to\mathcal{N}(0,I)$',
             color=GREEN, fontsize=13, fontweight='bold')

# Change of variables panel
ax = axs[2]
ax.set_xlim(0, 10)
ax.set_ylim(0, 10)
ax.axis('off')
ax.add_patch(FancyBboxPatch((0.27, 5.61), 2.62, 3.16, boxstyle='round,pad=0.1',
                            fc='#DBEAFE', ec=BLUE, lw=2))
ax.text(1.6, 7.2, '$f_{\\mathbf{Z}}(\\mathbf{z})$\n$\\sim\\mathcal{N}(0,I)$', color=BLUE,
        fontsize=11.5, ha='center', va='center')
ax.text(1.6, 5.5, 'Unit circle\n$|\\det J|=1$', color=GRAY, fontsize=8, ha='center', va='center')
ax.add_patch(Polygon(para_verts, closed=True, fc='#D1FAE5', ec=GREEN, lw=2))
ax.text(7.1, 7.47, '$f_{\\mathbf{Y}}(\\mathbf{y})$\n$=f_{\\mathbf{Z}}(g^{-1}(\\mathbf{y}))$\n$\\times|\\det J^{-1}|$',
        color=GREEN, fontsize=10, ha='center', va='center')
ax.annotate('', xy=(5.0, 7.25), xytext=(3.2, 7.25),
            arrowprops=dict(arrowstyle='-|>', color=RED, lw=3, mutation_scale=15))
ax.text(4.1, 7.97, r'$g(\mathbf{z})$', color=RED, fontsize=12, ha='center', va='center')
ax.text(4.98, 3.12, r'$f_{\mathbf{Y}}=f_{\mathbf{Z}}(g^{-1}(\mathbf{y}))\cdot|\det J_{g^{-1}}|$',
        fontsize=13, ha='center', va='center',
        bbox=dict(boxstyle='round,pad=0.4', fc='#FEF3C7', ec=ORANGE, lw=2))
ax.text(4.98, 1.77, 'Foundation of normalizing flows:\nlearn $g$ with tractable $\\det J$',
        color=GRAY, fontsize=9, style='italic', ha='center', va='center')
ax.set_title('Change of Variables\n' + r'$|\det(J)|$ scales density',
             color=CYAN, fontsize=13, fontweight='bold')

fig.suptitle('Multivariate Transformations', fontsize=14, fontweight='bold', x=1331 / W, y=1 - 37 / H, va='center')
fig.savefig('out.png', dpi=150)
